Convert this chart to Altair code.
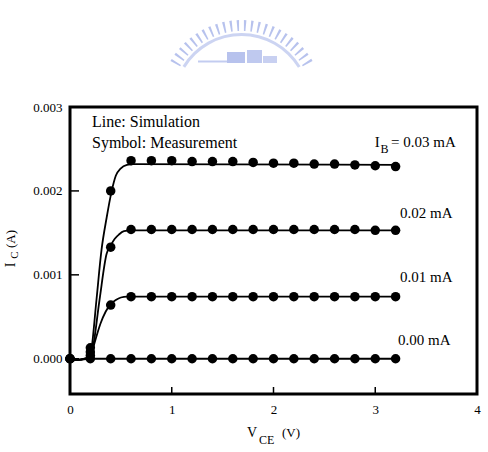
import altair as alt
import pandas as pd

# ---------------- data ----------------
vce_meas = [0.0, 0.2, 0.4, 0.6, 0.8, 1.0, 1.2, 1.4, 1.6, 1.8, 2.0, 2.2, 2.4, 2.6, 2.8, 3.0, 3.2]
ic_meas_000 = [0.0, 0.0, 0.0, 0.0, 0.0, 0.0, 0.0, 0.0, 0.0, 0.0, 0.0, 0.0, 0.0, 0.0, 0.0, 0.0, 0.0]
ic_meas_001 = [0.0, 0.00004, 0.00064, 0.00074, 0.00074, 0.00074, 0.00074, 0.00074, 0.00074,
               0.00074, 0.00074, 0.00074, 0.00074, 0.00074, 0.00074, 0.00074, 0.00074]
ic_meas_002 = [0.0, 0.00008, 0.00133, 0.00154, 0.00154, 0.00154, 0.00154, 0.00154, 0.00154,
               0.00154, 0.00154, 0.00154, 0.00154, 0.00154, 0.00154, 0.00153, 0.00153]
ic_meas_003 = [0.0, 0.00013, 0.00200, 0.00236, 0.00236, 0.00236, 0.00235, 0.00235, 0.00235,
               0.00234, 0.00233, 0.00233, 0.00232, 0.00232, 0.00231, 0.00230, 0.00229]

sim_000_v = [0.0, 0.1, 0.2, 3.22]
sim_000_i = [-0.00002, -0.00001, 0.0, 0.0]
sim_001_v = [0.0, 0.1, 0.2, 0.23, 0.3, 0.35, 0.4, 0.45, 0.5, 0.56, 0.62, 3.22]
sim_001_i = [-0.00002, -0.00001, 0.00001, 0.00014, 0.00042, 0.00056, 0.00065, 0.0007, 0.00073,
             0.00074, 0.00074, 0.00074]
sim_002_v = [0.0, 0.1, 0.2, 0.22, 0.29, 0.36, 0.4, 0.44, 0.48, 0.53, 0.6, 3.22]
sim_002_i = [-0.00002, -0.00001, 0.00002, 0.0001, 0.0007, 0.00125, 0.00135, 0.00143, 0.00148,
             0.00152, 0.00153, 0.00153]
sim_003_v = [0.0, 0.1, 0.2, 0.21, 0.26, 0.31, 0.36, 0.41, 0.45, 0.5, 0.56, 0.62, 3.22]
sim_003_i = [-0.00002, -0.00001, 0.00003, 0.0001, 0.0007, 0.0013, 0.00168, 0.002, 0.00218,
             0.00227, 0.00231, 0.00232, 0.00231]

x_ticks = [0, 1, 2, 3, 4]
y_ticks = [0.0, 0.001, 0.002, 0.003]
x_inner_ticks = [1, 2, 3]
y_inner_ticks = [0.0, 0.001, 0.002]

legend_texts = ["Line: Simulation", "Symbol: Measurement"]
curve_labels = ["0.02 mA", "0.01 mA", "0.00 mA"]
ib_label_main = "I"
ib_label_sub = "B"
ib_label_rest = "= 0.03 mA"

teeth = [1] * 24  # decorative watermark teeth

# ---------------- tables ----------------
meas = pd.DataFrame({
    "vce": vce_meas * 4,
    "ic": ic_meas_000 + ic_meas_001 + ic_meas_002 + ic_meas_003,
    "series": (["0.00"] * len(vce_meas) + ["0.01"] * len(vce_meas)
               + ["0.02"] * len(vce_meas) + ["0.03"] * len(vce_meas)),
})
sim = pd.DataFrame({
    "vce": sim_000_v + sim_001_v + sim_002_v + sim_003_v,
    "ic": sim_000_i + sim_001_i + sim_002_i + sim_003_i,
    "series": (["0.00"] * len(sim_000_v) + ["0.01"] * len(sim_001_v)
               + ["0.02"] * len(sim_002_v) + ["0.03"] * len(sim_003_v)),
})

FONT = "Liberation Serif"
xs = alt.Scale(domain=[0, 4], nice=False, zero=False)
ys = alt.Scale(domain=[-0.00042, 0.003], nice=False, zero=False)

xax = alt.Axis(values=x_ticks, ticks=False, domain=False, grid=False, title=None,
               labelFlush=False, labelPadding=9, format="d")
yax = alt.Axis(values=y_ticks, ticks=False, domain=False, grid=False, title=None,
               format=".3f", labelPadding=8)

lines = alt.Chart(sim).mark_line(color="black", strokeWidth=1.8, interpolate="monotone").encode(
    x=alt.X("vce:Q", scale=xs, axis=xax),
    y=alt.Y("ic:Q", scale=ys, axis=yax),
    detail="series:N",
)
dots = alt.Chart(meas).mark_circle(color="black", opacity=1, size=90).encode(
    x=alt.X("vce:Q", scale=xs),
    y=alt.Y("ic:Q", scale=ys),
)

xt = alt.Chart(pd.DataFrame({"t": x_inner_ticks})).mark_rule(color="black", strokeWidth=1.5).encode(
    x=alt.X("t:Q", scale=xs), y=alt.value(287), y2=alt.value(280))
yt = alt.Chart(pd.DataFrame({"t": y_inner_ticks})).mark_rule(color="black", strokeWidth=1.5).encode(
    y=alt.Y("t:Q", scale=ys), x=alt.value(0), x2=alt.value(9))

leg = alt.Chart(pd.DataFrame({"t": legend_texts, "x": [0.216, 0.216], "y": [0.00282, 0.00257]})).mark_text(
    font=FONT, fontSize=16, align="left", baseline="middle", color="black").encode(
    x=alt.X("x:Q", scale=xs), y=alt.Y("y:Q", scale=ys), text="t:N")

cl = alt.Chart(pd.DataFrame({"t": curve_labels, "x": [3.243, 3.243, 3.224],
                             "y": [0.001737, 0.000974, 0.000223]})).mark_text(
    font=FONT, fontSize=15, align="left", baseline="middle", color="black").encode(
    x=alt.X("x:Q", scale=xs), y=alt.Y("y:Q", scale=ys), text="t:N")

ib1 = alt.Chart(pd.DataFrame({"t": [ib_label_main, ib_label_rest], "x": [2.995, 3.155],
                              "y": [0.002583, 0.002583]})).mark_text(
    font=FONT, fontSize=15, align="left", baseline="middle", color="black").encode(
    x=alt.X("x:Q", scale=xs), y=alt.Y("y:Q", scale=ys), text="t:N")
ib2 = alt.Chart(pd.DataFrame({"t": [ib_label_sub], "x": [3.052], "y": [0.002505]})).mark_text(
    font=FONT, fontSize=12, align="left", baseline="middle", color="black").encode(
    x=alt.X("x:Q", scale=xs), y=alt.Y("y:Q", scale=ys), text="t:N")

# axis titles with subscripts (pixel positions relative to the plot area)
def txt(s, px, py, size, angle=0, align="left"):
    return alt.Chart(pd.DataFrame({"t": [s]})).mark_text(
        font=FONT, fontSize=size, align=align, baseline="middle", color="black", angle=angle).encode(
        x=alt.value(px), y=alt.value(py), text="t:N")

xtitle = txt("V", 177, 326, 14) + txt("CE", 189, 333, 12) + txt("(V)", 212, 326, 13)
ytitle = (txt("I", -59, 158, 14, angle=270, align="center")
          + txt("C", -55.5, 148, 11, angle=270, align="center")
          + txt("(A)", -59.5, 132, 13, angle=270, align="center"))

# watermark logo (decorative)
WM = "#aab7ea"
wm_teeth = alt.Chart(pd.DataFrame({"k": teeth, "id": list(range(len(teeth)))})).mark_arc(
    radius=82, radius2=71, padAngle=0.045, color=WM, opacity=0.85).encode(
    theta=alt.Theta("k:Q", stack=True, scale=alt.Scale(range=[5.206, 7.36])),
    order=alt.Order("id:Q"),
    x=alt.value(171.5), y=alt.value(-5),
)
wm_band = alt.Chart(pd.DataFrame({"k": [1]})).mark_arc(
    radius=69, radius2=66, theta=5.26, theta2=7.31, color=WM, opacity=0.6).encode(
    x=alt.value(171.5), y=alt.value(-5))
wm_base = (
    alt.Chart(pd.DataFrame({"k": [1]})).mark_rect(color=WM, opacity=0.7).encode(
        x=alt.value(128), x2=alt.value(157), y=alt.value(-46.5), y2=alt.value(-44.5))
    + alt.Chart(pd.DataFrame({"k": [1]})).mark_rect(color=WM, opacity=0.85).encode(
        x=alt.value(157), x2=alt.value(175), y=alt.value(-55), y2=alt.value(-44))
    + alt.Chart(pd.DataFrame({"k": [1]})).mark_rect(color=WM, opacity=0.75).encode(
        x=alt.value(177), x2=alt.value(192), y=alt.value(-57), y2=alt.value(-44))
    + alt.Chart(pd.DataFrame({"k": [1]})).mark_rect(color=WM, opacity=0.65).encode(
        x=alt.value(193), x2=alt.value(207), y=alt.value(-51), y2=alt.value(-44))
)

chart = alt.layer(
    lines, dots, xt, yt, leg, cl, ib1, ib2, xtitle, ytitle, wm_teeth, wm_band, wm_base
).properties(
    width=407, height=287,
    autosize=alt.AutoSizeParams(type="none"),
    padding={"left": 70, "top": 107, "right": 11, "bottom": 58},
    background="white",
).configure_view(
    stroke="black", strokeWidth=3
).configure_axis(
    labelFont=FONT, labelFontSize=13, labelColor="black"
)

chart.save("out.html", embed_options={"renderer": "svg", "actions": False})
